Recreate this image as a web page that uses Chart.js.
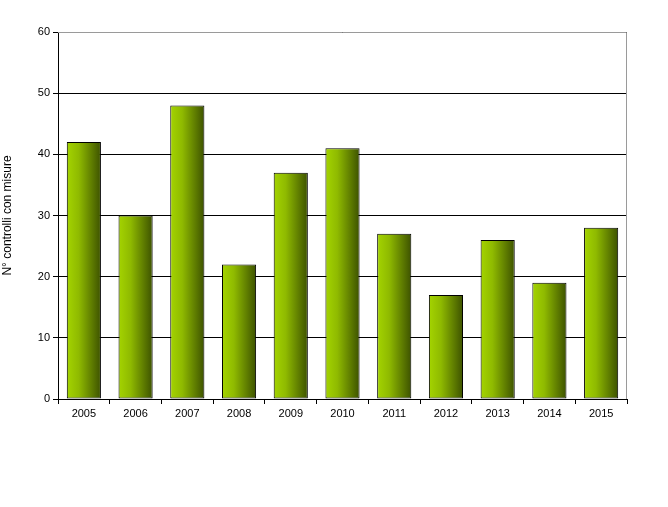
<!DOCTYPE html>
<html>
<head>
<meta charset="utf-8">
<script src="https://cdn.jsdelivr.net/npm/chart.js@4"></script>
<style>
  html, body { margin: 0; padding: 0; background: #fff; }
  #wrap { width: 668px; height: 507px; }
</style>
</head>
<body>
<div id="wrap"><canvas id="c" width="668" height="507"></canvas></div>
<script>
// ===== データ =====
const YEARS = ['2005','2006','2007','2008','2009','2010','2011','2012','2013','2014','2015'];
const CONTROLLI = [42, 30, 48, 22, 37, 41, 27, 17, 26, 19, 28];
const Y_TICKS = [0, 10, 20, 30, 40, 50, 60];
const BAR_RATIO = 0.66;

// ===== バーのグラデーション =====
function barGradient(ctx) {
  const chart = ctx.chart;
  const x = chart.scales.x;
  if (!x || ctx.dataIndex === undefined) return '#7a9f00';
  const cx = x.getPixelForValue(ctx.dataIndex);
  const w = (x.width / YEARS.length) * BAR_RATIO;
  if (!isFinite(cx) || !isFinite(w) || w <= 0) return '#7a9f00';
  const g = chart.ctx.createLinearGradient(cx - w / 2, 0, cx + w / 2, 0);
  g.addColorStop(0, '#a4d400');
  g.addColorStop(0.35, '#8fba00');
  g.addColorStop(1, '#3d5200');
  return g;
}

// 枠線（上・右）
const frame = {
  id: 'frame',
  beforeDatasetsDraw(chart) {
    const { ctx, chartArea: a } = chart;
    ctx.save();
    ctx.strokeStyle = '#9a9a9a';
    ctx.lineWidth = 1;
    ctx.beginPath();
    ctx.moveTo(a.left, a.top + 0.5);
    ctx.lineTo(a.right - 0.5, a.top + 0.5);
    ctx.lineTo(a.right - 0.5, a.bottom);
    ctx.stroke();
    ctx.restore();
  }
};

const chart = new Chart(document.getElementById('c'), {
  type: 'bar',
  data: {
    labels: YEARS,
    datasets: [{
      data: CONTROLLI,
      backgroundColor: barGradient,
      borderColor: '#000',
      borderWidth: 1,
      borderSkipped: false,
      categoryPercentage: 1,
      barPercentage: BAR_RATIO
    }]
  },
  options: {
    responsive: false,
    animation: false,
    layout: { padding: { top: 32, right: 41, bottom: 78, left: 0 } },
    plugins: { legend: { display: false }, tooltip: { enabled: false } },
    scales: {
      x: {
        afterFit: s => { s.height = 30; },
        grid: { offset: true, drawOnChartArea: false, color: '#000', tickLength: 5 },
        border: { color: '#000' },
        ticks: { color: '#000', font: { family: 'Arial, Liberation Sans', size: 11 }, padding: 3 }
      },
      y: {
        min: 0, max: 60,
        afterFit: s => { s.width = 58; },
        afterBuildTicks: s => { s.ticks = Y_TICKS.map(v => ({ value: v })); },
        grid: { color: '#000', tickLength: 5 },
        border: { color: '#000' },
        ticks: { color: '#000', font: { family: 'Arial, Liberation Sans', size: 11 }, padding: 3 },
        title: { display: true, text: 'N° controlli con misure', color: '#000',
                 font: { family: 'Arial, Liberation Sans', size: 12 }, padding: 0 }
      }
    }
  },
  plugins: [frame]
});
chart.update();
</script>
</body>
</html>
